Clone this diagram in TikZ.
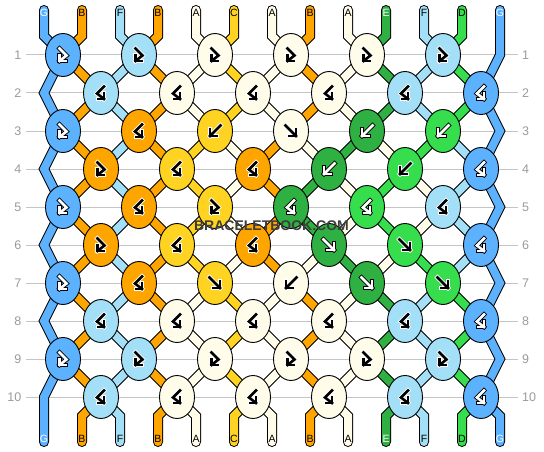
\documentclass[tikz,border=0pt]{standalone}
\usepackage{fontspec}
\setmainfont{Liberation Sans}
\usetikzlibrary{shapes.geometric}
\definecolor{cG}{HTML}{5DB2FF}
\definecolor{cB}{HTML}{FFA500}
\definecolor{cF}{HTML}{A3E0F8}
\definecolor{cA}{HTML}{FFFCEA}
\definecolor{cC}{HTML}{FFD322}
\definecolor{cE}{HTML}{2FB042}
\definecolor{cD}{HTML}{36DE4E}
\definecolor{gridgray}{HTML}{C4C4C4}
\definecolor{numgray}{HTML}{9A9A9A}
\definecolor{wmark}{HTML}{3C3C3C}
\colorlet{fgw}{white}\colorlet{bgw}{black}
\colorlet{fgk}{black}\colorlet{bgk}{white}
\tikzset{
  gridline/.style={draw=gridgray, line width=1pt},
  rowlab/.style={text=numgray, font=\fontsize{12.5}{14}\selectfont, inner sep=0pt},
  strlab/.style={font=\fontsize{10.5}{12}\selectfont, inner sep=0pt},
  strandout/.style={draw=black, line width=10pt, line cap=round, line join=miter},
  strandin/.style={line width=8pt, line cap=round, line join=miter},
  knot/.style={ellipse, draw=black, line width=0.9pt, minimum width=35pt, minimum height=43pt, inner sep=0pt},
  arrline/.style={line cap=rect, line join=miter},
  wm/.style={font=\bfseries\fontsize{14}{16}\selectfont, inner sep=0pt}
}
\newcommand\strand[3]{%
  \draw[strandout] (#2,10) -- (#2,36) \foreach \xx [count=\rr] in {#3}{ -- (\xx,{55+38*(\rr-1)}) } -- (#2,416) -- (#2,442);
  \draw[strandin,draw=#1] (#2,10) -- (#2,36) \foreach \xx [count=\rr] in {#3}{ -- (\xx,{55+38*(\rr-1)}) } -- (#2,416) -- (#2,442);
}
\newcommand\arrdraw[4]{%
  \draw[arrline, line width=4.4pt, draw=#4] #1;
  \draw[arrline, line width=4.4pt, draw=#4] #2;
  \draw[arrline, line width=2.6pt, draw=#3] #1;
  \draw[arrline, line width=2.6pt, draw=#3] #2;
}
\newcommand\arrF[2]{\arrdraw{(-5.5,-5.5) -- (5,5)}{(5,-1.5) -- (5,5) -- (-1.5,5)}{#1}{#2}}
\newcommand\arrB[2]{\arrdraw{(5.5,-5.5) -- (-5,5)}{(-5,-1.5) -- (-5,5) -- (1.5,5)}{#1}{#2}}
\newcommand\arrFB[2]{\arrdraw{(-3.5,-6.5) -- (3.5,0.5) -- (-3.5,6)}{(-3.5,0.3) -- (-3.5,6) -- (2.5,6)}{#1}{#2}}
\newcommand\arrBF[2]{\arrdraw{(3,-6.5) -- (-4,0.5) -- (3,6)}{(3,0.3) -- (3,6) -- (-3,6)}{#1}{#2}}
\newcommand\knot[5]{%
  \pgfmathsetmacro\kx{63+38*(1-mod(#1,2))+76*(#2-1)}%
  \pgfmathsetmacro\ky{55+38*(#1-1)}%
  \node[knot,fill=#3] (k#1-#2) at (\kx,\ky) {};
  \begin{scope}[shift={(k#1-#2.center)}]
    \csname arr#4\endcsname{fg#5}{bg#5}
  \end{scope}
}
\begin{document}
\begin{tikzpicture}[x=1pt,y=-1pt]
\useasboundingbox (0,0) rectangle (544,452);
% row guide lines and numbers
\foreach \r in {1,...,10}{
  \coordinate (gl\r) at (26,{55+38*(\r-1)});
  \coordinate (gr\r) at (518,{55+38*(\r-1)});
  \draw[gridline] (gl\r) -- (gr\r);
  \node[rowlab, anchor=east] (ln\r) at (21.5,{55+38*(\r-1)}) {\r};
  \node[rowlab, anchor=west] (rn\r) at (522,{55+38*(\r-1)}) {\r};
}
% strands
\strand{cG}{44}{63,44,63,44,63,44,63,44,63,44}
\strand{cB}{82}{63,101,63,101,63,101,63,101,63,101}
\strand{cF}{120}{139,101,139,101,139,101,139,101,139,101}
\strand{cB}{158}{139,177,139,177,139,177,139,177,139,177}
\strand{cA}{196}{215,177,215,253,215,253,215,177,215,177}
\strand{cC}{234}{215,253,215,177,215,177,215,253,215,253}
\strand{cA}{272}{291,253,291,329,367,329,291,253,291,253}
\strand{cB}{310}{291,329,291,253,291,253,291,329,291,329}
\strand{cA}{348}{367,329,367,405,443,405,367,329,367,329}
\strand{cE}{386}{367,405,367,329,291,329,367,405,367,405}
\strand{cF}{424}{443,405,443,481,443,481,443,405,443,405}
\strand{cD}{462}{443,481,443,405,367,405,443,481,443,481}
\strand{cG}{500}{500,481,500,481,500,481,500,481,500,481}
% knots
\knot{1}{1}{cG}{FB}{w}\knot{1}{2}{cF}{FB}{k}\knot{1}{3}{cA}{FB}{k}\knot{1}{4}{cA}{FB}{k}\knot{1}{5}{cA}{FB}{k}\knot{1}{6}{cF}{FB}{k}
\knot{2}{1}{cF}{BF}{k}\knot{2}{2}{cA}{BF}{k}\knot{2}{3}{cA}{BF}{k}\knot{2}{4}{cA}{BF}{k}\knot{2}{5}{cF}{BF}{k}\knot{2}{6}{cG}{BF}{w}
\knot{3}{1}{cG}{FB}{w}\knot{3}{2}{cB}{BF}{k}\knot{3}{3}{cC}{B}{k}\knot{3}{4}{cA}{F}{k}\knot{3}{5}{cE}{B}{w}\knot{3}{6}{cD}{B}{w}
\knot{4}{1}{cB}{FB}{k}\knot{4}{2}{cC}{BF}{k}\knot{4}{3}{cB}{BF}{k}\knot{4}{4}{cE}{B}{w}\knot{4}{5}{cD}{B}{k}\knot{4}{6}{cG}{BF}{w}
\knot{5}{1}{cG}{FB}{w}\knot{5}{2}{cB}{BF}{k}\knot{5}{3}{cC}{FB}{k}\knot{5}{4}{cE}{BF}{w}\knot{5}{5}{cD}{BF}{w}\knot{5}{6}{cF}{BF}{k}
\knot{6}{1}{cB}{FB}{k}\knot{6}{2}{cC}{BF}{k}\knot{6}{3}{cB}{BF}{k}\knot{6}{4}{cE}{F}{w}\knot{6}{5}{cD}{F}{k}\knot{6}{6}{cG}{BF}{w}
\knot{7}{1}{cG}{FB}{w}\knot{7}{2}{cB}{BF}{k}\knot{7}{3}{cC}{F}{k}\knot{7}{4}{cA}{B}{k}\knot{7}{5}{cE}{F}{w}\knot{7}{6}{cD}{F}{k}
\knot{8}{1}{cF}{BF}{k}\knot{8}{2}{cA}{BF}{k}\knot{8}{3}{cA}{BF}{k}\knot{8}{4}{cA}{BF}{k}\knot{8}{5}{cF}{BF}{k}\knot{8}{6}{cG}{BF}{w}
\knot{9}{1}{cG}{FB}{w}\knot{9}{2}{cF}{FB}{k}\knot{9}{3}{cA}{FB}{k}\knot{9}{4}{cA}{FB}{k}\knot{9}{5}{cA}{FB}{k}\knot{9}{6}{cF}{FB}{k}
\knot{10}{1}{cF}{BF}{k}\knot{10}{2}{cA}{BF}{k}\knot{10}{3}{cA}{BF}{k}\knot{10}{4}{cA}{BF}{k}\knot{10}{5}{cF}{BF}{k}\knot{10}{6}{cG}{BF}{w}
% strand letters
\foreach \i/\L/\tc in {0/G/white,1/B/black,2/F/black,3/B/black,4/A/black,5/C/black,6/A/black,7/B/black,8/A/black,9/E/white,10/F/black,11/D/black,12/G/white}{
  \node[strlab,text=\tc] (top\i) at ({44+38*\i},13) {\L};
  \node[strlab,text=\tc] (bot\i) at ({44+38*\i},439) {\L};
}
% watermark
\node[wm,text=wmark] (wm) at (271.5,226) {BRACELETBOOK.COM};
\end{tikzpicture}
\end{document}
